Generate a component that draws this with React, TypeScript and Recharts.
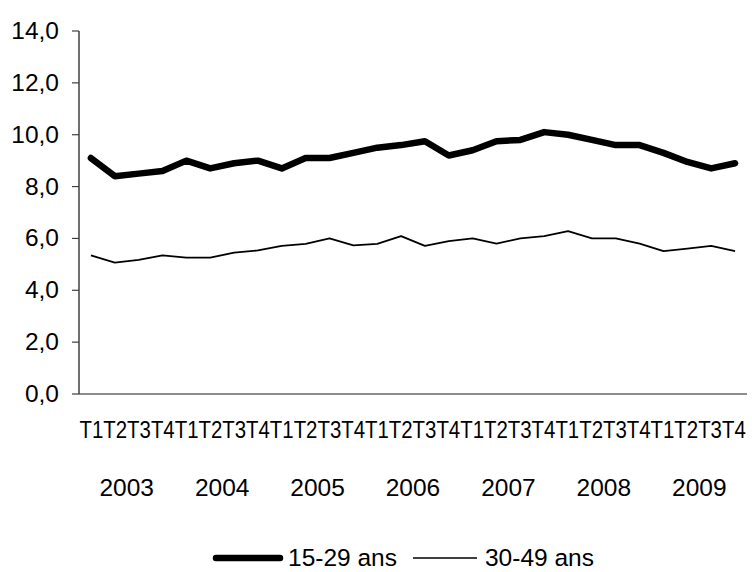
import React from "react";
import { LineChart, Line, XAxis, YAxis, Legend } from "recharts";

const quarters = ["T1","T2","T3","T4","T1","T2","T3","T4","T1","T2","T3","T4","T1","T2","T3","T4","T1","T2","T3","T4","T1","T2","T3","T4","T1","T2","T3","T4"];
const years = ["2003","2004","2005","2006","2007","2008","2009"];
const young = [9.1, 8.4, 8.5, 8.6, 9.0, 8.7, 8.9, 9.0, 8.7, 9.1, 9.1, 9.3, 9.5, 9.6, 9.75, 9.2, 9.4, 9.75, 9.8, 10.1, 10.0, 9.8, 9.6, 9.6, 9.3, 8.95, 8.7, 8.9];
const older = [5.35, 5.07, 5.17, 5.35, 5.26, 5.26, 5.45, 5.54, 5.71, 5.79, 6.0, 5.73, 5.79, 6.09, 5.71, 5.9, 6.0, 5.8, 6.0, 6.09, 6.28, 6.0, 6.0, 5.8, 5.51, 5.61, 5.71, 5.51];
const yTicks = [0, 2, 4, 6, 8, 10, 12, 14];
const seriesNames = ["15-29 ans", "30-49 ans"];

const data = quarters.map((q, i) => ({
  key: i,
  q,
  year: years[Math.floor(i / 4)],
  young: young[i],
  older: older[i],
}));

const FONT = '"Liberation Sans", Arial, sans-serif';
const BAND = (747 - 79) / 28;
const QFONT = 24.5;
// Arial/Liberation Sans advance widths: "T" 0.611em, digit 0.556em
const PAIR_EM = 0.611 + 0.556;
const QSCALE = (BAND - 0.05) / (PAIR_EM * QFONT);

// Quarter labels are condensed so each "Tn" fills exactly one band, as in the reference.
const XTick = (props: any) => {
  const { x, y, payload } = props;
  const idx = payload.value as number;
  const d = data[idx];
  return (
    <g>
      {idx === 0 && (
        <text
          x={0}
          y={0}
          textAnchor="start"
          fontFamily={FONT}
          fontSize={QFONT}
          fill="#000"
          transform={`translate(${x - BAND / 2 + 0.5},${y + 44}) scale(${QSCALE},1)`}
        >
          {data.map((r) => r.q).join("")}
        </text>
      )}
      {idx % 4 === 1 && (
        <text
          x={x + BAND / 2}
          y={y + 102}
          textAnchor="middle"
          fontFamily={FONT}
          fontSize={24.5}
          fill="#000"
        >
          {d.year}
        </text>
      )}
    </g>
  );
};

const YTick = (props: any) => {
  const { x, y, payload } = props;
  const label = (payload.value as number).toFixed(1).replace(".", ",");
  return (
    <text
      x={x - 11}
      y={y + 8}
      textAnchor="end"
      fontFamily={FONT}
      fontSize={24.5}
      fill="#000"
    >
      {label}
    </text>
  );
};

const LegendContent = () => (
  <div
    style={{
      display: "flex",
      justifyContent: "flex-start",
      alignItems: "center",
      fontFamily: FONT,
      fontSize: 24.5,
      lineHeight: "28px",
      color: "#000",
      height: 28,
      paddingLeft: 212,
      whiteSpace: "nowrap",
    }}
  >
    <svg width={72} height={12} style={{ marginRight: 4 }}>
      <line x1={4} y1={6} x2={68} y2={6} stroke="#000" strokeWidth={6.5} strokeLinecap="round" />
    </svg>
    <span style={{ marginRight: 16 }}>{seriesNames[0]}</span>
    <svg width={64} height={12} style={{ marginRight: 8 }}>
      <line x1={0} y1={6} x2={64} y2={6} stroke="#000" strokeWidth={1.6} />
    </svg>
    <span>{seriesNames[1]}</span>
  </div>
);

export default function App() {
  return (
    <div style={{ position: "absolute", left: 0, top: 0, width: 752, height: 572, background: "#fff" }}>
      <LineChart
        width={752}
        height={572}
        data={data}
        margin={{ top: 31, right: 5, left: 0, bottom: 0 }}
      >
        <XAxis
          dataKey="key"
          xAxisId="main"
          interval={0}
          height={178}
          padding={{ left: BAND / 2, right: BAND / 2 }}
          tickLine={false}
          tickSize={0}
          tickMargin={0}
          axisLine={{ stroke: "#8c8c8c", strokeWidth: 2 }}
          tick={<XTick />}
        />
        <XAxis
          dataKey="key"
          xAxisId="top"
          orientation="top"
          height={0}
          tick={false}
          tickLine={false}
          axisLine={{ stroke: "#8c8c8c", strokeWidth: 2 }}
        />
        <YAxis
          yAxisId="right"
          orientation="right"
          width={0}
          domain={[0, 14]}
          tick={false}
          tickLine={false}
          axisLine={{ stroke: "#8c8c8c", strokeWidth: 2.5 }}
        />
        <YAxis
          yAxisId="main"
          width={79}
          domain={[0, 14]}
          ticks={yTicks}
          interval={0}
          tickSize={7}
          tickLine={{ stroke: "#404040", strokeWidth: 1.2 }}
          axisLine={{ stroke: "#404040", strokeWidth: 1.5 }}
          tick={<YTick />}
        />
        <Legend
          verticalAlign="middle"
          align="center"
          layout="horizontal"
          wrapperStyle={{ top: 544, left: 0, width: 752 }}
          content={<LegendContent />}
        />
        <Line
          xAxisId="main"
          yAxisId="main"
          type="linear"
          dataKey="young"
          name={seriesNames[0]}
          stroke="#000"
          strokeWidth={6.5}
          strokeLinejoin="round"
          strokeLinecap="round"
          dot={false}
          activeDot={false}
          isAnimationActive={false}
        />
        <Line
          xAxisId="main"
          yAxisId="main"
          type="linear"
          dataKey="older"
          name={seriesNames[1]}
          stroke="#000"
          strokeWidth={1.8}
          strokeLinejoin="round"
          dot={false}
          activeDot={false}
          isAnimationActive={false}
        />
      </LineChart>
    </div>
  );
}
